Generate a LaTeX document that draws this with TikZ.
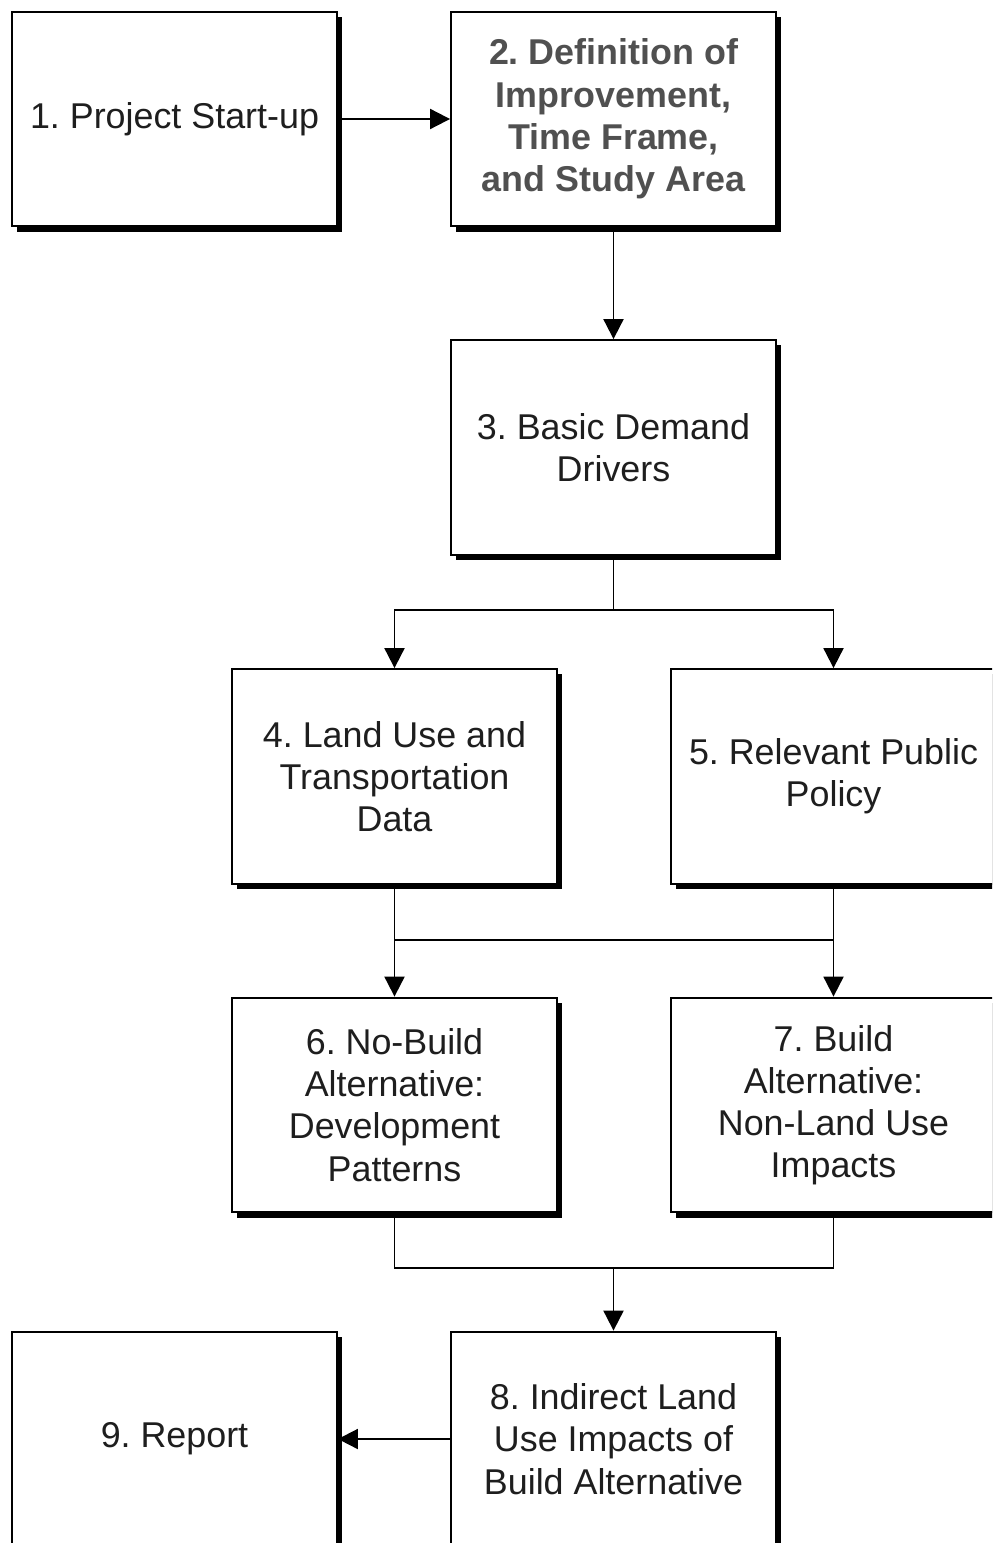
\documentclass[tikz,border=0pt]{standalone}
\usepackage{fontspec}
\setmainfont{Liberation Sans}
\usetikzlibrary{arrows.meta,shadows,positioning}
\definecolor{boxtext}{RGB}{30,30,30}
\definecolor{headtext}{RGB}{80,80,80}
\frenchspacing

\begin{document}
\begin{tikzpicture}[x=0.025cm,y=-0.025cm]
	\tikzstyle{every node}=[font=\fontsize{25.5}{30}\selectfont]
	\tikzstyle{stepbox}=[draw, line width=1.4pt, fill=white, minimum width=8.12cm, minimum height=5.37cm, align=center, text=boxtext, inner sep=0pt, drop shadow={shadow xshift=0.13cm, shadow yshift=-0.13cm, fill=black, opacity=1}]
	\tikzstyle{conn}=[line width=1.4pt, ->, >={Triangle[width=0.5cm,length=0.5cm]}]
	\useasboundingbox (0,0) rectangle (992,1543);
	\clip (0,0) rectangle (992,1543);
	% boxes
	\node [stepbox] (start) at (174.5,119) {1. Project Start-up};
	\node [stepbox, text=headtext, font=\fontsize{25.5}{30}\selectfont\bfseries] (define) at (613.5,119) {2. Definition of\\Improvement,\\Time Frame,\\and Study Area};
	\node [stepbox] (drivers) at (613.5,447.5) {3. Basic Demand\\Drivers};
	\node [stepbox] (landuse) at (394.5,776.5) {4. Land Use and\\Transportation\\Data};
	\node [stepbox] (policy) at (833.5,776.5) {5. Relevant Public\\Policy};
	\node [stepbox] (nobuild) at (394.5,1105) {6. No-Build\\Alternative:\\Development\\Patterns};
	\node [stepbox] (build) at (833.5,1105) {7. Build\\Alternative:\\Non-Land Use\\Impacts};
	\node [stepbox] (indirect) at (613.5,1439) {8. Indirect Land\\Use Impacts of\\Build Alternative};
	\node [stepbox] (report) at (174.5,1439) {9. Report};
	% junctions
	\coordinate (split) at (613.5,610);
	\coordinate (merge1) at (613.5,940);
	\coordinate (merge2) at (613.5,1268);
	% connectors
	\draw [conn] (start) -- (define);
	\draw [conn] (define) -- (drivers);
	\draw [line width=1.4pt] (drivers) -- (split);
	\draw [conn] (split) -| (landuse);
	\draw [conn] (split) -| (policy);
	\draw [conn] (landuse) -- (nobuild);
	\draw [conn] (policy) -- (build);
	\draw [line width=1.4pt] (landuse.south |- merge1) -- (policy.south |- merge1);
	\draw [line width=1.4pt] (nobuild) |- (merge2) -| (build);
	\draw [conn] (merge2) -- (indirect);
	\draw [conn] (indirect) -- (report);
\end{tikzpicture}
\end{document}
